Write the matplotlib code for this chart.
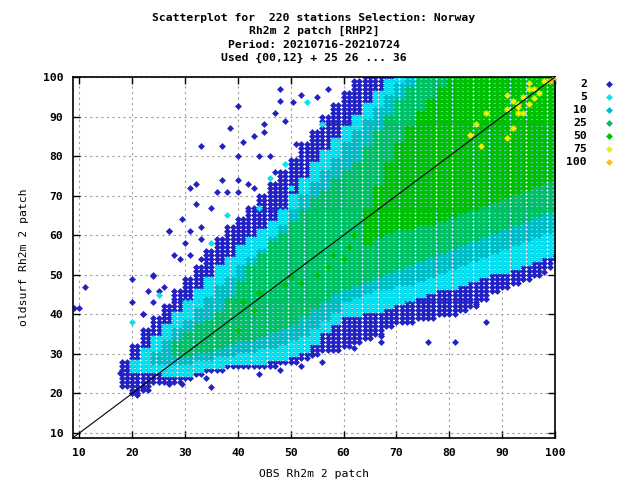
import numpy as np
import matplotlib
matplotlib.use('Agg')
import matplotlib.pyplot as plt

# observed value bins (each bin covers x0 and x0+1)
xbins = [18, 20, 22, 24, 26, 28, 30, 32, 34, 36, 38, 40, 42, 44, 46, 48, 50,
         52, 54, 56, 58, 60, 62, 64, 66, 68, 70, 72, 74, 76, 78, 80, 82, 84,
         86, 88, 90, 92, 94, 96, 98, 100]

N = None
# lower / upper model value of each density class per bin
blue_lo = [22, 20, 21, 23, 23, 23, 24, 25, 26, 26, 27, 27, 27, 27, 27, 28, 28,
           29, 30, 31, 31, 32, 33, 34, 35, 37, 38, 38, 39, 39, 40, 40, 41, 42,
           44, 46, 47, 48, 49, 50, 52, 54]
blue_hi = [28, 32, 36, 39, 42, 46, 49, 52, 56, 59, 62, 64, 67, 70, 73, 76, 79,
           83, 86, 90, 93, 96, 99, 100, 100, 100, 100, 100, 100, 100, 100,
           100, 100, 100, 100, 100, 100, 100, 100, 100, 100, 100]
cyan_lo = [N, 26, 26, 26, 25, 25, 25, 26, 27, 27, 28, 28, 28, 28, 29, 29, 30,
           31, 33, 36, 38, 40, 40, 41, 41, 42, 43, 44, 45, 46, 47, 47, 48, 49,
           50, 51, 51, 52, 53, 54, 55, 56]
cyan_hi = [N, 28, 31, 34, 37, 40, 43, 46, 49, 52, 54, 57, 59, 61, 63, 66, 70,
           74, 78, 81, 84, 87, 90, 93, 96, 99, 100, 100, 100, 100, 100, 100,
           100, 100, 100, 100, 100, 100, 100, 100, 100, 100]
teal_lo = [N, N, N, 28, 28, 28, 28, 29, 29, 30, 30, 31, 31, 32, 32, 33, 34,
           35, 37, 39, 41, 44, 45, 46, 47, 47, 48, 48, 49, 50, 51, 52, 53, 54,
           55, 56, 57, 58, 59, 60, 61, 62]
teal_hi = [N, N, N, 30, 33, 36, 38, 41, 44, 47, 49, 52, 54, 56, 59, 62, 66,
           70, 73, 76, 79, 83, 86, 89, 92, 95, 98, 100, 100, 100, 100, 100,
           100, 100, 100, 100, 100, 100, 100, 100, 100, 100]
gt_lo = [N, N, N, N, N, 30, 30, 31, 31, 32, 33, 34, 34, 35, 36, 37, 38, 40,
         42, 44, 46, 47, 48, 49, 50, 51, 52, 53, 54, 55, 56, 57, 58, 59, 60,
         61, 62, 63, 64, 65, 66, 67]
gt_hi = [N, N, N, N, N, 33, 35, 37, 38, 40, 44, 48, 52, 55, 58, 60, 63, 66,
         69, 71, 74, 76, 78, 82, 86, 90, 94, 97, 100, 100, 100, 100, 100, 100,
         100, 100, 100, 100, 100, 100, 100, 100]
green_lo = [N, N, N, N, N, N, N, N, N, N, N, N, N, N, N, N, N, N, N, N, N, N,
            N, 58, 60, 61, 62, 62, 63, 63, 64, 65, 66, 67, 68, 69, 70, 71, 72,
            73, 74, 75]
green_hi = [N, N, N, N, N, N, N, N, N, N, N, N, N, N, N, N, N, N, N, N, N, N,
            N, 66, 72, 78, 83, 87, 91, 94, 97, 100, 100, 100, 100, 100, 100,
            100, 100, 100, 100, 100]

# model value levels
ylev = list(range(100, 8, -1))

# scattered single points
blue_x = [9, 10, 11, 20, 20, 24, 22, 27, 29.5, 31, 32, 33, 37, 38.6, 40, 41,
          48, 48, 52, 50.5, 45, 43, 35, 28, 25, 35, 34, 20, 21, 22, 27, 29.5,
          76, 81, 87, 67, 67, 52, 56, 54, 62, 44, 48, 17.6, 19, 98, 94, 90, 85,
          40, 44, 46, 51, 53, 47, 43, 40, 38, 36, 37, 40, 42, 32, 31, 33, 33,
          27, 30, 31, 33, 29, 24, 26, 23, 24, 22, 45, 49, 47, 55, 57]
blue_y = [41.6, 41.6, 47, 49, 43, 49.6, 40, 61, 64, 72, 73, 82.5, 82.5, 87,
          92.6, 83.5, 97, 94, 95.4, 93.6, 88, 85, 67, 55, 46, 21.6, 24, 20,
          19.5, 21.4, 22.4, 22.4, 33, 33, 38, 33, 34.5, 27, 28, 29.7, 31.5, 25,
          26, 25.2, 26, 50.7, 49, 48, 42.6,
          80, 80, 80, 83, 82, 76, 72, 71, 71, 71, 74, 74, 73, 68, 61, 62, 59,
          61, 58, 55, 54, 54, 50, 47, 46, 43, 40, 86, 89, 91, 95, 97]
cyan_x = [20, 38, 46, 53, 50, 25, 35, 44, 49, 56]
cyan_y = [38, 65, 74.4, 93.6, 72, 45, 58, 67, 78, 88]
green_x = [41, 40, 43, 44, 49, 50, 52, 55, 57, 58, 60, 61, 62]
green_y = [43, 36, 41, 45.4, 47.4, 49.4, 48, 50, 52, 55, 54, 57, 60]
yellow_x = [95, 95, 91, 93, 95, 96, 93, 91, 93, 87, 85, 92, 84, 91, 86, 94,
            97, 98, 96, 92, 94]
yellow_y = [98.6, 97, 95.4, 93.3, 93.3, 94.6, 92.3, 91.8, 90.8, 90.8, 88, 87,
            85.3, 84.5, 82.5, 95, 96, 99, 97, 94, 91]
orange_x = [99, 100]
orange_y = [99, 100]

labels = ['2', '5', '10', '25', '50', '75', '100']
colors = ['#2222c4', '#00e6ee', '#00bcc4', '#00c060', '#00c000', '#eeee00', '#ffbb22']


def cells(lo, hi):
    xs, ys = [], []
    for x0, a, b in zip(xbins, lo, hi):
        if a is None:
            continue
        for x in (x0, x0 + 1):
            if x > 100:
                continue
            for y in ylev:
                if a <= y <= b:
                    xs.append(x)
                    ys.append(y)
    return xs, ys


plt.rcParams['font.family'] = 'DejaVu Sans Mono'
plt.rcParams['font.weight'] = 'bold'
plt.rcParams['font.size'] = 8.2

fig = plt.figure(figsize=(6.4, 4.8), dpi=100)
ax = fig.add_axes([73 / 640, 1 - 438 / 480, (555 - 73) / 640, (438 - 77) / 480])

ms = 3.5
pt = dict(ls='none', marker='D', ms=ms, mew=0, antialiased=False)
bands = [(blue_lo, blue_hi), (cyan_lo, cyan_hi), (teal_lo, teal_hi),
         (gt_lo, gt_hi), (green_lo, green_hi)]
extras = {0: (blue_x, blue_y), 1: (cyan_x, cyan_y), 4: (green_x, green_y)}
for i, (lo, hi) in enumerate(bands):
    xs, ys = cells(lo, hi)
    ax.plot(xs, ys, color=colors[i], zorder=2 + i * 0.1, **pt)
    if i in extras:
        ax.plot(extras[i][0], extras[i][1], color=colors[i],
                zorder=2.05 + i * 0.1, **pt)
ax.plot(yellow_x, yellow_y, color=colors[5], zorder=2.6, **pt)
ax.plot(orange_x, orange_y, color=colors[6], zorder=2.7, **pt)

ax.plot([8.8, 100], [8.8, 100], color='black', lw=0.8, zorder=3)

ax.set_xlim(8.8, 100)
ax.set_ylim(8.74, 100)
ax.set_xticks(range(10, 101, 10))
ax.set_yticks(range(10, 101, 10))
ax.tick_params(direction='in', length=5, width=1, top=True, right=True, pad=7)
for s in ax.spines.values():
    s.set_linewidth(1.2)
ax.set_axisbelow(True)
ax.grid(True, color='#a0a0a0', ls=(0, (2, 3)), lw=0.8)

ax.set_xlabel('OBS Rh2m 2 patch', labelpad=8)
ax.set_ylabel('oldsurf Rh2m 2 patch', labelpad=10)

titles = ['Scatterplot for  220 stations Selection: Norway',
          'Rh2m 2 patch [RHP2]',
          'Period: 20210716-20210724',
          'Used {00,12} + 25 26 ... 36']
for k, t in enumerate(titles):
    fig.text(314 / 640, 1 - (18 + 13.3 * k) / 480, t, ha='center', va='center')

for k, (lab, c) in enumerate(zip(labels, colors)):
    yy = 1 - (84 + 13 * k) / 480
    fig.text(587 / 640, yy, lab, ha='right', va='center')
    ax.plot([609 / 640], [yy], color=c, transform=fig.transFigure,
            clip_on=False, **pt)

fig.savefig('out.png', dpi=100)
